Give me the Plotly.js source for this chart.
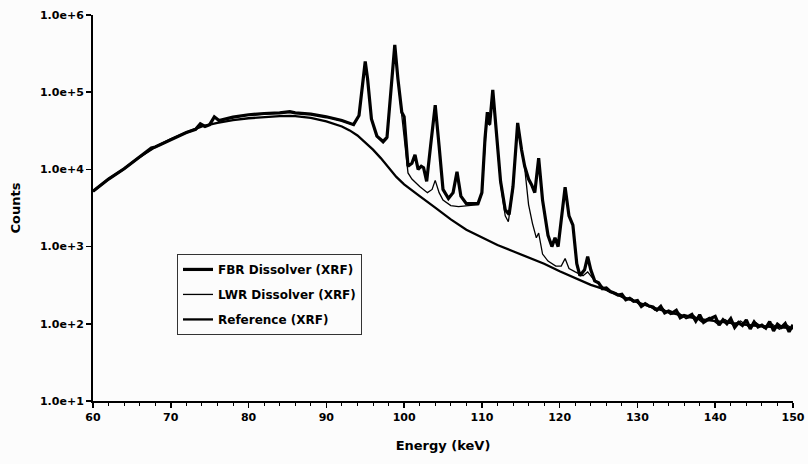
<!DOCTYPE html>
<html>
<head>
<meta charset="utf-8">
<script src="https://cdn.plot.ly/plotly-3.0.1.min.js"></script>
<style>html,body{margin:0;padding:0;background:#fcfcfc;}#chart{width:808px;height:464px;}</style>
</head>
<body>
<div id="chart"></div>
<script>
// ---- data ----
const seriesNames = ["FBR Dissolver (XRF)", "LWR Dissolver (XRF)", "Reference (XRF)"];

const refEnergy = [60,62,64,66,68,70,72,74,76,78,80,82,84,85.3,86,88,90,92,93,94,95,96,97,98,99,100,101,102,104,106,108,110,112,114,116,118,120,122,124,126,128,130,132,134,136,138,140,142,144,146,148,150];
const refCounts = [5200,7500,10200,14500,19500,24500,30000,36000,40000,43500,46000,48000,49000,49500,49000,46500,42000,36000,32000,27500,22500,18000,14000,10500,8000,6400,5300,4500,3200,2250,1650,1300,1050,870,720,600,480,390,320,275,225,190,162,142,126,115,108,102,97,93,90,88];

const fbrEnergy = [60,62,64,66,67.5,68,70,72,73.2,73.8,74.4,75,75.6,76.2,78,80,82,84,85.3,86,88,90,92,93.5,94.2,94.7,95,95.3,95.8,96.5,97.3,97.8,98.3,98.8,99.2,99.7,100,100.5,101,101.4,101.8,102.2,102.5,102.9,103.4,104,104.5,105,105.7,106.3,106.8,107.3,108,109.5,110,110.4,110.7,111,111.4,111.8,112.4,113,113.5,114,114.6,115.1,115.5,116,116.4,116.8,117.3,117.8,118.5,119,119.4,119.8,120.3,120.7,121.2,121.7,122.2,122.6,123.2,123.6,124,124.5,
  125,125.5,126,126.5,127,127.5,128,128.5,129,129.5,130,130.5,131,131.5,132,132.5,133,133.5,134,134.5,135,135.5,136,136.5,137,137.5,138,138.5,139,139.5,140,140.5,141,141.5,142,142.5,143,143.5,144,144.5,145,145.5,146,146.5,147,147.5,148,148.5,149,149.5,150];
const fbrCounts = [5200,7500,10200,14500,19000,19500,24500,30000,33000,39000,36000,38000,48000,43000,47500,51000,53000,54000,56000,54000,52000,48000,43000,38000,50000,150000,250000,150000,45000,27000,23000,26000,120000,410000,150000,55000,48000,11000,12000,15500,10000,11000,10500,7000,20000,68000,20000,5500,4200,5000,9300,4500,3600,3600,5000,25000,55000,38000,107000,35000,7000,3000,2600,6000,40000,18000,11000,7500,6300,5000,14000,4000,1400,1000,1300,1000,2500,5900,2500,1900,600,420,500,740,500,360,
  340,285,292,262,250,236,241,205,214,196,200,168,182,170,165,150,168,138,146,139,150,120,128,124,132,108,131,104,112,117,125,96,113,100,117,90,104,95,112,86,106,91,96,88,107,81,99,90,101,79,97];

const lwrEnergy = [60,62,64,66,68,70,72,73.2,73.8,74.4,75,75.6,76.2,78,80,82,84,85.3,86,88,90,92,93.5,94.2,94.7,95,95.3,95.8,96.5,97.3,97.8,98.3,98.8,99.2,99.7,100,100.5,101,102,103,103.6,104,104.5,105,106,107,108,109.5,110,110.4,110.7,111,111.4,111.8,112.4,113,113.4,114,114.6,115.1,115.5,116,116.5,117,117.3,117.8,118.5,119.5,120.2,120.7,121.2,122,123,123.6,124.5,125.25,126.25,127.25,128.25,129.25,130.25,131.25,132.25,133.25,134.25,135.25,136.25,137.25,138.25,139.25,140.25,141.25,142.25,143.25,144.25,145.25,146.25,147.25,148.25,149.25,150];
const lwrCounts = [5200,7500,10200,14500,19500,24500,30000,33000,39000,36000,38000,48000,43000,47000,50500,52500,53500,55000,53500,51500,47500,42500,37500,49000,145000,245000,145000,44000,26500,22000,25000,115000,400000,145000,52000,30000,9000,7500,6000,5000,5500,7200,5000,4000,3400,3300,3400,3500,4900,24000,54000,37000,104000,34000,6500,2500,2100,5500,39000,17500,10500,3500,2000,1300,1500,800,650,560,560,700,520,470,420,470,360,318,262,250,212,214,178,180,150,158,132,140,116,127,106,121,100,114,98,109,92,103,88,100,85,96,86];

const xTickVals = [60,70,80,90,100,110,120,130,140,150];
const yTickVals = [10,100,1000,10000,100000,1000000];
const yTickText = ["1.0e+1","1.0e+2","1.0e+3","1.0e+4","1.0e+5","1.0e+6"];

// ---- chart ----
const FAM = "DejaVu Sans, Verdana, sans-serif";
const tickFont = {family: FAM, size: 11, color: "#000", weight: "bold"};
const titleFont = {family: FAM, size: 13, color: "#000", weight: "bold"};

const traces = [
  {x: fbrEnergy, y: fbrCounts, name: seriesNames[0], type: "scatter", mode: "lines",
   legendgroup: "a", line: {color: "#000", width: 3.2}},
  {x: lwrEnergy, y: lwrCounts, name: seriesNames[1], type: "scatter", mode: "lines",
   legendgroup: "b", line: {color: "#000", width: 1.3}},
  {x: refEnergy, y: refCounts, name: seriesNames[2], type: "scatter", mode: "lines",
   legendgroup: "c", line: {color: "#000", width: 2.3}}
];

const layout = {
  width: 808, height: 464,
  margin: {l: 93, r: 15, t: 15, b: 63},
  paper_bgcolor: "#fcfcfc", plot_bgcolor: "#fcfcfc",
  showlegend: true,
  legend: {
    x: 0.12, y: 0.381, xanchor: "left", yanchor: "top",
    bgcolor: "#fcfcfc", bordercolor: "#333", borderwidth: 1,
    font: {family: FAM, size: 12, color: "#000", weight: "bold"},
    traceorder: "grouped", tracegroupgap: 6, itemwidth: 30
  },
  xaxis: {
    range: [60, 150], tickmode: "array", tickvals: xTickVals,
    ticks: "outside", ticklen: 5, tickwidth: 1.6, tickcolor: "#000",
    showline: true, linecolor: "#000", linewidth: 2, showgrid: false, zeroline: false,
    tickfont: tickFont,
    minor: {tickmode: "linear", tick0: 60, dtick: 2, ticks: "outside", ticklen: 3, tickcolor: "#000", tickwidth: 1, showgrid: false},
    title: {text: "Energy (keV)", font: titleFont, standoff: 18}
  },
  yaxis: {
    type: "log", range: [1, 6], tickmode: "array", tickvals: yTickVals, ticktext: yTickText,
    ticks: "outside", ticklen: 5, tickwidth: 1.6, tickcolor: "#000",
    showline: true, linecolor: "#000", linewidth: 2, showgrid: false, zeroline: false,
    tickfont: tickFont,
    title: {text: "Counts", font: titleFont, standoff: 16}
  }
};

Plotly.newPlot("chart", traces, layout, {displayModeBar: false, staticPlot: true});
</script>
</body>
</html>
